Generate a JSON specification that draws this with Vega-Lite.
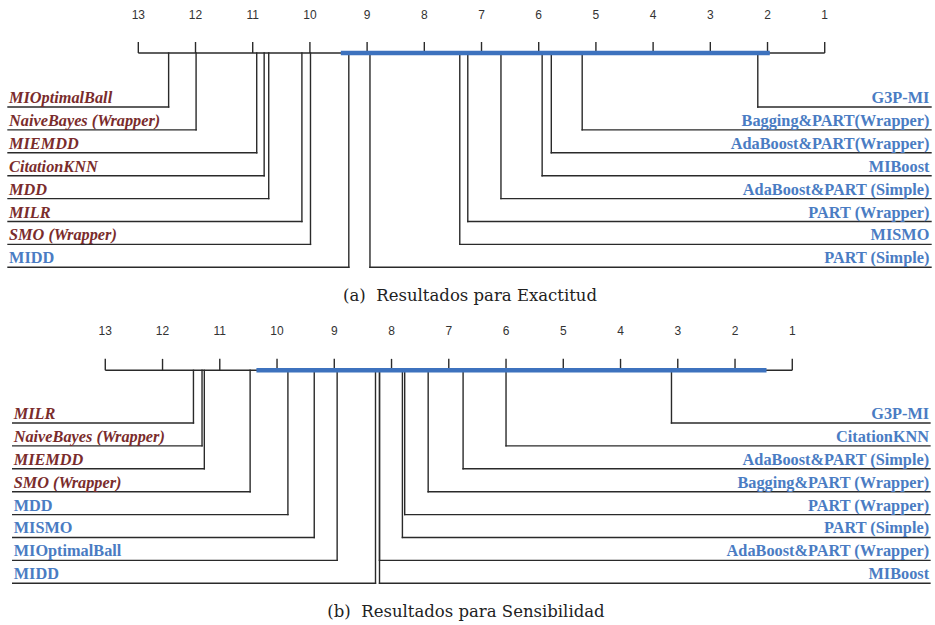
{
  "$schema": "https://vega.github.io/schema/vega-lite/v6.json",
  "padding": 0,
  "spacing": 0,
  "bounds": "flush",
  "background": "white",
  "config": {"view": {"stroke": null}, "concat": {"spacing": 0}},
  "datasets": {
    "ticks": [
      {"rank": 1}, {"rank": 2}, {"rank": 3}, {"rank": 4}, {"rank": 5}, {"rank": 6}, {"rank": 7},
      {"rank": 8}, {"rank": 9}, {"rank": 10}, {"rank": 11}, {"rank": 12}, {"rank": 13}
    ],
    "eje": [{"desde": 13, "hasta": 1}],
    "exactitud": [
      {"method": "MIOptimalBall", "rank": 12.47, "row": 1, "side": "izq", "grupo": "peor"},
      {"method": "NaiveBayes (Wrapper)", "rank": 11.99, "row": 2, "side": "izq", "grupo": "peor"},
      {"method": "MIEMDD", "rank": 10.93, "row": 3, "side": "izq", "grupo": "peor"},
      {"method": "CitationKNN", "rank": 10.80, "row": 4, "side": "izq", "grupo": "peor"},
      {"method": "MDD", "rank": 10.72, "row": 5, "side": "izq", "grupo": "peor"},
      {"method": "MILR", "rank": 10.14, "row": 6, "side": "izq", "grupo": "peor"},
      {"method": "SMO (Wrapper)", "rank": 9.99, "row": 7, "side": "izq", "grupo": "peor"},
      {"method": "MIDD", "rank": 9.32, "row": 8, "side": "izq", "grupo": "igual"},
      {"method": "G3P-MI", "rank": 2.17, "row": 1, "side": "der", "grupo": "igual"},
      {"method": "Bagging&PART(Wrapper)", "rank": 5.24, "row": 2, "side": "der", "grupo": "igual"},
      {"method": "AdaBoost&PART(Wrapper)", "rank": 5.78, "row": 3, "side": "der", "grupo": "igual"},
      {"method": "MIBoost", "rank": 5.94, "row": 4, "side": "der", "grupo": "igual"},
      {"method": "AdaBoost&PART (Simple)", "rank": 6.66, "row": 5, "side": "der", "grupo": "igual"},
      {"method": "PART (Wrapper)", "rank": 7.24, "row": 6, "side": "der", "grupo": "igual"},
      {"method": "MISMO", "rank": 7.38, "row": 7, "side": "der", "grupo": "igual"},
      {"method": "PART (Simple)", "rank": 8.95, "row": 8, "side": "der", "grupo": "igual"}
    ],
    "sensibilidad": [
      {"method": "MILR", "rank": 11.46, "row": 1, "side": "izq", "grupo": "peor"},
      {"method": "NaiveBayes (Wrapper)", "rank": 11.31, "row": 2, "side": "izq", "grupo": "peor"},
      {"method": "MIEMDD", "rank": 11.27, "row": 3, "side": "izq", "grupo": "peor"},
      {"method": "SMO (Wrapper)", "rank": 10.47, "row": 4, "side": "izq", "grupo": "peor"},
      {"method": "MDD", "rank": 9.81, "row": 5, "side": "izq", "grupo": "igual"},
      {"method": "MISMO", "rank": 9.35, "row": 6, "side": "izq", "grupo": "igual"},
      {"method": "MIOptimalBall", "rank": 8.95, "row": 7, "side": "izq", "grupo": "igual"},
      {"method": "MIDD", "rank": 8.28, "row": 8, "side": "izq", "grupo": "igual"},
      {"method": "G3P-MI", "rank": 3.11, "row": 1, "side": "der", "grupo": "igual"},
      {"method": "CitationKNN", "rank": 6.00, "row": 2, "side": "der", "grupo": "igual"},
      {"method": "AdaBoost&PART (Simple)", "rank": 6.75, "row": 3, "side": "der", "grupo": "igual"},
      {"method": "Bagging&PART (Wrapper)", "rank": 7.36, "row": 4, "side": "der", "grupo": "igual"},
      {"method": "PART (Wrapper)", "rank": 7.77, "row": 5, "side": "der", "grupo": "igual"},
      {"method": "PART (Simple)", "rank": 7.81, "row": 6, "side": "der", "grupo": "igual"},
      {"method": "AdaBoost&PART (Wrapper)", "rank": 8.21, "row": 7, "side": "der", "grupo": "igual"},
      {"method": "MIBoost", "rank": 8.21, "row": 8, "side": "der", "grupo": "igual"}
    ],
    "cd": [
      {"panel": "a", "from": 9.46, "to": 1.96},
      {"panel": "b", "from": 10.36, "to": 1.45}
    ],
    "captions": [
      {"panel": "a", "caption": "(a)\u00a0\u00a0Resultados para Exactitud"},
      {"panel": "b", "caption": "(b)\u00a0\u00a0Resultados para Sensibilidad"}
    ]
  },
  "vconcat": [
    {
      "width": 935,
      "height": 315.4,
      "layer": [
        {
          "data": {"name": "eje"},
          "mark": {"type": "rule", "color": "#2a2a2a", "strokeWidth": 1.4},
          "encoding": {
            "x": {"field": "desde", "type": "quantitative", "axis": null,
                  "scale": {"domain": [15.418, -0.928], "nice": false, "zero": false}},
            "x2": {"field": "hasta"},
            "y": {"datum": -1.358, "type": "quantitative", "axis": null,
                  "scale": {"domain": [-3.672, 10.1], "nice": false, "zero": false, "reverse": true}}
          }
        },
        {
          "data": {"name": "ticks"},
          "mark": {"type": "rule", "color": "#2a2a2a", "strokeWidth": 1.4},
          "encoding": {
            "x": {"field": "rank", "type": "quantitative"},
            "y": {"datum": -1.358, "type": "quantitative"},
            "y2": {"datum": -1.838}
          }
        },
        {
          "data": {"name": "ticks"},
          "mark": {"type": "text", "font": "Liberation Sans", "fontSize": 12, "color": "#333333", "baseline": "middle"},
          "encoding": {
            "x": {"field": "rank", "type": "quantitative"},
            "y": {"datum": -3.0, "type": "quantitative"},
            "text": {"field": "rank", "type": "quantitative"}
          }
        },
        {
          "data": {"name": "exactitud"},
          "mark": {"type": "rule", "color": "#2a2a2a", "strokeWidth": 1.4, "strokeCap": "square"},
          "encoding": {
            "x": {"field": "rank", "type": "quantitative"},
            "y": {"field": "row", "type": "quantitative"},
            "y2": {"datum": -1.358}
          }
        },
        {
          "data": {"name": "exactitud"},
          "transform": [{"filter": "datum.side === 'izq'"}],
          "mark": {"type": "rule", "color": "#2a2a2a", "strokeWidth": 1.4, "strokeCap": "square"},
          "encoding": {
            "x": {"field": "rank", "type": "quantitative"},
            "x2": {"datum": 15.278},
            "y": {"field": "row", "type": "quantitative"}
          }
        },
        {
          "data": {"name": "exactitud"},
          "transform": [{"filter": "datum.side === 'der'"}],
          "mark": {"type": "rule", "color": "#2a2a2a", "strokeWidth": 1.4, "strokeCap": "square"},
          "encoding": {
            "x": {"field": "rank", "type": "quantitative"},
            "x2": {"datum": -0.858},
            "y": {"field": "row", "type": "quantitative"}
          }
        },
        {
          "data": {"name": "cd"},
          "transform": [{"filter": "datum.panel === 'a'"}],
          "mark": {"type": "rule", "color": "#3d72be", "strokeWidth": 4.5},
          "encoding": {
            "x": {"field": "from", "type": "quantitative"},
            "x2": {"field": "to"},
            "y": {"datum": -1.358, "type": "quantitative"}
          }
        },
        {
          "data": {"name": "exactitud"},
          "transform": [{"filter": "datum.side === 'izq' && datum.grupo === 'peor'"}],
          "mark": {"type": "text", "font": "Liberation Serif", "fontSize": 16.3, "fontWeight": "bold", "fontStyle": "italic", "color": "#7a2c2c", "align": "left", "baseline": "alphabetic", "dy": -4},
          "encoding": {
            "x": {"datum": 15.26, "type": "quantitative"},
            "y": {"field": "row", "type": "quantitative"},
            "text": {"field": "method", "type": "nominal"}
          }
        },
        {
          "data": {"name": "exactitud"},
          "transform": [{"filter": "datum.side === 'izq' && datum.grupo === 'igual'"}],
          "mark": {"type": "text", "font": "Liberation Serif", "fontSize": 16.3, "fontWeight": "bold", "color": "#4a7cc3", "align": "left", "baseline": "alphabetic", "dy": -4},
          "encoding": {
            "x": {"datum": 15.26, "type": "quantitative"},
            "y": {"field": "row", "type": "quantitative"},
            "text": {"field": "method", "type": "nominal"}
          }
        },
        {
          "data": {"name": "exactitud"},
          "transform": [{"filter": "datum.side === 'der'"}],
          "mark": {"type": "text", "font": "Liberation Serif", "fontSize": 16.3, "fontWeight": "bold", "color": "#4a7cc3", "align": "right", "baseline": "alphabetic", "dy": -4},
          "encoding": {
            "x": {"datum": -0.83, "type": "quantitative"},
            "y": {"field": "row", "type": "quantitative"},
            "text": {"field": "method", "type": "nominal"}
          }
        },
        {
          "data": {"name": "captions"},
          "transform": [{"filter": "datum.panel === 'a'"}],
          "mark": {"type": "text", "font": "DejaVu Serif", "fontSize": 16.5, "color": "#222222", "align": "center", "baseline": "middle"},
          "encoding": {
            "x": {"datum": 7.2, "type": "quantitative"},
            "y": {"datum": 9.254, "type": "quantitative"},
            "text": {"field": "caption", "type": "nominal"}
          }
        }
      ]
    },
    {
      "width": 935,
      "height": 306.2,
      "layer": [
        {
          "data": {"name": "eje"},
          "mark": {"type": "rule", "color": "#2a2a2a", "strokeWidth": 1.4},
          "encoding": {
            "x": {"field": "desde", "type": "quantitative", "axis": null,
                  "scale": {"domain": [14.839, -1.493], "nice": false, "zero": false}},
            "x2": {"field": "hasta"},
            "y": {"datum": -1.30, "type": "quantitative", "axis": null,
                  "scale": {"domain": [-3.672, 9.7], "nice": false, "zero": false, "reverse": true}}
          }
        },
        {
          "data": {"name": "ticks"},
          "mark": {"type": "rule", "color": "#2a2a2a", "strokeWidth": 1.4},
          "encoding": {
            "x": {"field": "rank", "type": "quantitative"},
            "y": {"datum": -1.30, "type": "quantitative"},
            "y2": {"datum": -1.80}
          }
        },
        {
          "data": {"name": "ticks"},
          "mark": {"type": "text", "font": "Liberation Sans", "fontSize": 12, "color": "#333333", "baseline": "middle"},
          "encoding": {
            "x": {"field": "rank", "type": "quantitative"},
            "y": {"datum": -3.0, "type": "quantitative"},
            "text": {"field": "rank", "type": "quantitative"}
          }
        },
        {
          "data": {"name": "sensibilidad"},
          "mark": {"type": "rule", "color": "#2a2a2a", "strokeWidth": 1.4, "strokeCap": "square"},
          "encoding": {
            "x": {"field": "rank", "type": "quantitative"},
            "y": {"field": "row", "type": "quantitative"},
            "y2": {"datum": -1.30}
          }
        },
        {
          "data": {"name": "sensibilidad"},
          "transform": [{"filter": "datum.side === 'izq'"}],
          "mark": {"type": "rule", "color": "#2a2a2a", "strokeWidth": 1.4, "strokeCap": "square"},
          "encoding": {
            "x": {"field": "rank", "type": "quantitative"},
            "x2": {"datum": 14.617},
            "y": {"field": "row", "type": "quantitative"}
          }
        },
        {
          "data": {"name": "sensibilidad"},
          "transform": [{"filter": "datum.side === 'der'"}],
          "mark": {"type": "rule", "color": "#2a2a2a", "strokeWidth": 1.4, "strokeCap": "square"},
          "encoding": {
            "x": {"field": "rank", "type": "quantitative"},
            "x2": {"datum": -1.405},
            "y": {"field": "row", "type": "quantitative"}
          }
        },
        {
          "data": {"name": "cd"},
          "transform": [{"filter": "datum.panel === 'b'"}],
          "mark": {"type": "rule", "color": "#3d72be", "strokeWidth": 4.5},
          "encoding": {
            "x": {"field": "from", "type": "quantitative"},
            "x2": {"field": "to"},
            "y": {"datum": -1.30, "type": "quantitative"}
          }
        },
        {
          "data": {"name": "sensibilidad"},
          "transform": [{"filter": "datum.side === 'izq' && datum.grupo === 'peor'"}],
          "mark": {"type": "text", "font": "Liberation Serif", "fontSize": 16.3, "fontWeight": "bold", "fontStyle": "italic", "color": "#7a2c2c", "align": "left", "baseline": "alphabetic", "dy": -4},
          "encoding": {
            "x": {"datum": 14.6, "type": "quantitative"},
            "y": {"field": "row", "type": "quantitative"},
            "text": {"field": "method", "type": "nominal"}
          }
        },
        {
          "data": {"name": "sensibilidad"},
          "transform": [{"filter": "datum.side === 'izq' && datum.grupo === 'igual'"}],
          "mark": {"type": "text", "font": "Liberation Serif", "fontSize": 16.3, "fontWeight": "bold", "color": "#4a7cc3", "align": "left", "baseline": "alphabetic", "dy": -4},
          "encoding": {
            "x": {"datum": 14.6, "type": "quantitative"},
            "y": {"field": "row", "type": "quantitative"},
            "text": {"field": "method", "type": "nominal"}
          }
        },
        {
          "data": {"name": "sensibilidad"},
          "transform": [{"filter": "datum.side === 'der'"}],
          "mark": {"type": "text", "font": "Liberation Serif", "fontSize": 16.3, "fontWeight": "bold", "color": "#4a7cc3", "align": "right", "baseline": "alphabetic", "dy": -4},
          "encoding": {
            "x": {"datum": -1.39, "type": "quantitative"},
            "y": {"field": "row", "type": "quantitative"},
            "text": {"field": "method", "type": "nominal"}
          }
        },
        {
          "data": {"name": "captions"},
          "transform": [{"filter": "datum.panel === 'b'"}],
          "mark": {"type": "text", "font": "DejaVu Serif", "fontSize": 16.5, "color": "#222222", "align": "center", "baseline": "middle"},
          "encoding": {
            "x": {"datum": 6.7, "type": "quantitative"},
            "y": {"datum": 9.258, "type": "quantitative"},
            "text": {"field": "caption", "type": "nominal"}
          }
        }
      ]
    }
  ]
}
